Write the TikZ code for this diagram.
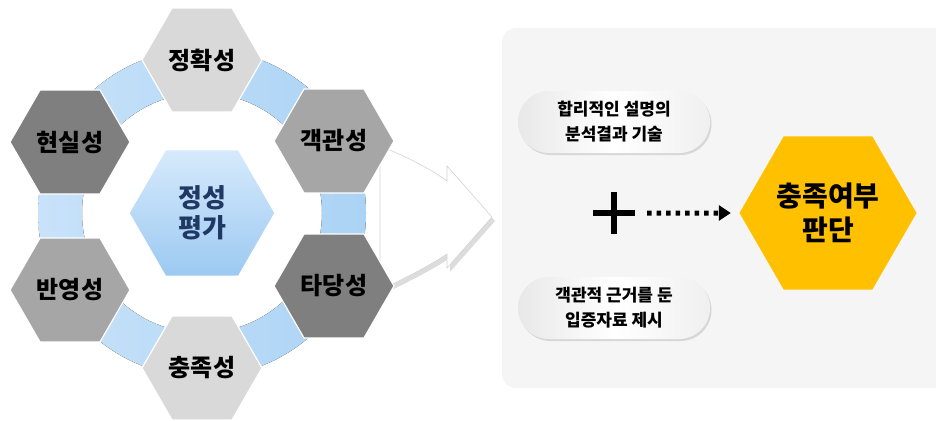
\documentclass[tikz,border=0pt]{standalone}
\usepackage{fontspec}
\setmainfont{Noto Sans CJK KR}
\usetikzlibrary{shapes.geometric,shapes.misc,shadows,arrows.meta}
\definecolor{hexlight}{HTML}{D9D9D9}
\definecolor{hexmid}{HTML}{A6A6A6}
\definecolor{hexdark}{HTML}{7F7F7F}
\definecolor{ringA}{HTML}{ABD3F5}
\definecolor{ringB}{HTML}{C8E2F9}
\definecolor{coreA}{HTML}{D6EAFC}
\definecolor{coreB}{HTML}{9CC9F1}
\definecolor{navy}{HTML}{1F3864}
\definecolor{panel}{HTML}{F5F5F5}
\definecolor{gold}{HTML}{FFC000}
\begin{document}
\begin{tikzpicture}[x=1pt,y=-1pt,
  hexa/.style={regular polygon, regular polygon sides=6, inner sep=0pt,
    minimum size=120pt, draw=white, line width=1.2pt,
    font=\bfseries\fontsize{24}{28}\selectfont, text=black, align=center},
  pill/.style={rounded rectangle, minimum width=192pt, minimum height=62pt,
    inner sep=0pt, left color=gray!18, right color=gray!12, middle color=white,
    drop shadow={shadow xshift=1.5pt, shadow yshift=-2pt, opacity=0.25},
    font=\bfseries\fontsize{17}{25}\selectfont, align=center},
]
\useasboundingbox (0,0) rectangle (936,420);
% right panel
\fill[panel, rounded corners=14pt] (502,28) rectangle (960,388);
% ring
\coordinate (ctr) at (202,213);
\fill[even odd rule, left color=ringB, right color=ringA] (ctr) circle (164pt) (ctr) circle (120pt);
% big arrow
\fill[gray!55, opacity=0.5]
  (383,150) .. controls (413,162) and (435,174) .. (450,185) -- (450,170) -- (495,221)
  -- (450,272) -- (450,258) .. controls (435,268) and (413,280) .. (383,294) -- cycle;
\fill[white, draw=gray!35, line width=0.6pt]
  (380,146) .. controls (410,158) and (432,170) .. (447,181) -- (447,166) -- (492,217)
  -- (447,268) -- (447,254) .. controls (432,264) and (410,276) .. (380,290) -- cycle;
% hexagons
\node[hexa, fill=hexlight] (acc) at (202,60) {정확성};
\node[hexa, fill=hexdark] (real) at (70,142) {현실성};
\node[hexa, fill=hexmid] (obj) at (334,141) {객관성};
\node[hexa, fill=hexmid] (refl) at (70,290) {반영성};
\node[hexa, fill=hexdark] (valid) at (334,286) {타당성};
\node[hexa, fill=hexlight] (suff) at (202,368) {충족성};
\node[hexa, minimum size=146pt, top color=coreA, bottom color=coreB, text=navy,
  font=\bfseries\fontsize{26}{30}\selectfont] (core) at (202,213) {정성\\평가};
% right side
\node[pill] (p1) at (614,122) {합리적인 설명의\\분석결과 기술};
\node[pill] (p2) at (614,308) {객관적 근거를 둔\\입증자료 제시};
\node[minimum size=42pt, inner sep=0pt] (plus) at (614,213) {};
\draw[line width=6pt] (plus.north) -- (plus.south) (plus.west) -- (plus.east);
\node[hexa, minimum size=177pt, fill=gold, draw=none,
  font=\bfseries\fontsize{28}{34}\selectfont] (judge) at (828,213) {충족여부\\판단};
\draw[line width=5pt, dash pattern=on 4.5pt off 5pt, shorten <=12pt, shorten >=8pt,
  -{Triangle[length=12pt,width=15pt]}] (plus.east) -- (judge.west);
\end{tikzpicture}
\end{document}
